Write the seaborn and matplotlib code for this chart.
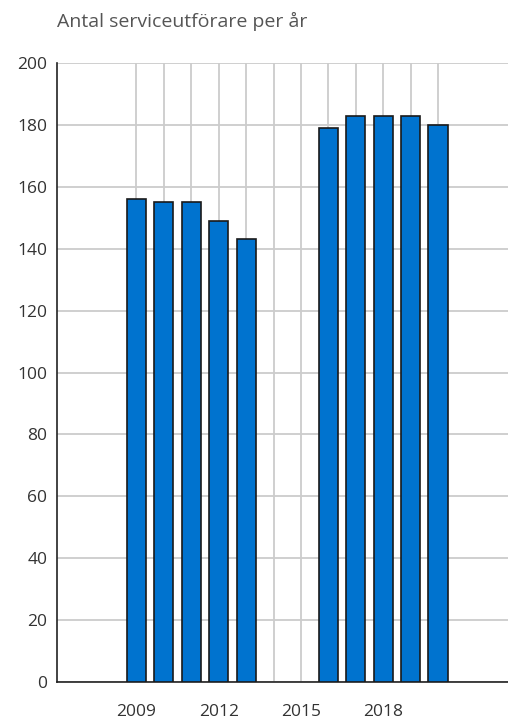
import matplotlib.pyplot as plt
import seaborn as sns
import pandas as pd

years = [2009, 2010, 2011, 2012, 2013, 2016, 2017, 2018, 2019, 2020]
antal = [156, 155, 155, 149, 143, 179, 183, 183, 183, 180]
tick_years = list(range(2009, 2021))
label_years = [2009, 2012, 2015, 2018]
y_ticks = list(range(0, 201, 20))

df = pd.DataFrame({'År': years, 'Antal': antal})

sns.set_style("white")
plt.rcParams['font.family'] = ['Open Sans', 'DejaVu Sans']

fig = plt.figure(figsize=(5.08, 7.22), dpi=100)
ax = fig.add_axes([0.112, 0.0554, 0.888, 0.8573])

sns.barplot(data=df, x='År', y='Antal', native_scale=True, width=0.7,
            color='#0073cf', saturation=1, edgecolor='#1a1a1a', linewidth=1.2,
            ax=ax, zorder=3)
for p in ax.patches:
    p.set_joinstyle('miter')

ax.set_xlim(2006.1, 2022.55)
ax.set_ylim(0, 200)
ax.set_xticks(tick_years)
ax.set_xticklabels([str(y) if y in label_years else '' for y in tick_years])
ax.set_yticks(y_ticks)

ax.grid(True, color='#cccccc', linewidth=1.3, zorder=0)
ax.set_axisbelow(True)
sns.despine(ax=ax, top=True, right=True)
for s in ['left', 'bottom']:
    ax.spines[s].set_color('#222222')
    ax.spines[s].set_linewidth(1.2)

ax.tick_params(axis='both', colors='#222222', labelsize=12.5, length=5, width=1.2)
ax.tick_params(axis='x', labelcolor='#333333', pad=11)
ax.tick_params(axis='y', labelcolor='#333333', pad=2)
ax.set_xlabel('')
ax.set_ylabel('')

fig.text(0.112, 0.970, 'Antal serviceutförare per år', fontsize=14, color='#555555',
         ha='left', va='center')

plt.savefig('out.png', dpi=100)
